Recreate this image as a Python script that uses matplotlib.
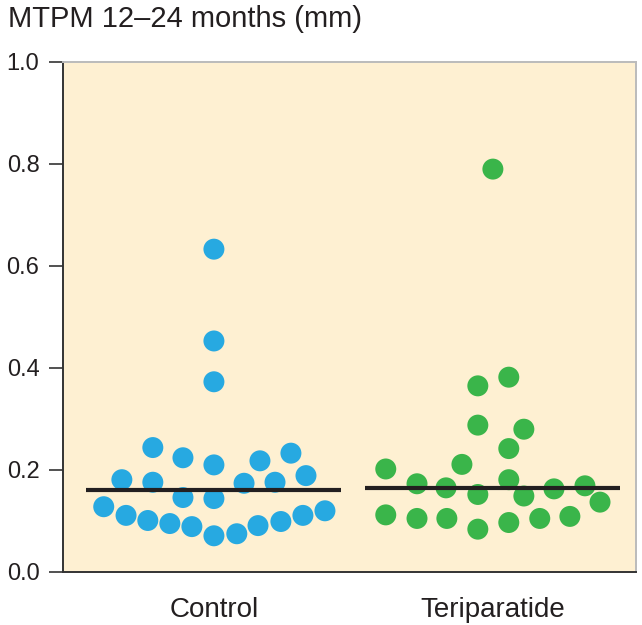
import matplotlib
matplotlib.use("Agg")
import matplotlib.pyplot as plt
import numpy as np

plt.rcParams['font.family'] = ['Liberation Sans', 'DejaVu Sans']

categories = ["Control", "Teriparatide"]

control_values = [0.633, 0.453, 0.373, 0.244, 0.224, 0.210, 0.218, 0.233,
                  0.181, 0.176, 0.174, 0.176, 0.189, 0.146, 0.144,
                  0.128, 0.111, 0.101, 0.095, 0.089, 0.071, 0.075, 0.091,
                  0.099, 0.111, 0.120]
control_offsets = [0, 0, 0, -0.219, -0.111, 0, 0.165, 0.276, -0.330, -0.219,
                   0.108, 0.219, 0.330, -0.111, 0, -0.395, -0.315, -0.237,
                   -0.158, -0.079, 0, 0.082, 0.158, 0.240, 0.319, 0.398]

teri_values = [0.790, 0.365, 0.382, 0.288, 0.280, 0.242, 0.211, 0.202, 0.173,
               0.165, 0.152, 0.181, 0.149, 0.163, 0.169, 0.137, 0.112, 0.105,
               0.105, 0.084, 0.097, 0.105, 0.109]
teri_offsets = [0, -0.054, 0.057, -0.054, 0.111, 0.057, -0.111, -0.384, -0.272,
                -0.168, -0.054, 0.057, 0.111, 0.219, 0.330, 0.384, -0.384,
                -0.272, -0.165, -0.054, 0.057, 0.168, 0.276]

medians = [0.160, 0.165]
yticks = [0.0, 0.2, 0.4, 0.6, 0.8, 1.0]
title = "MTPM 12\u201324 months (mm)"

colors = ["#27A9E1", "#3AB54A"]

fig = plt.figure(figsize=(6.42, 6.25), dpi=100)
ax = fig.add_axes([63/642, 53/625, 573/642, 510/625])
ax.set_facecolor("#FEF0D2")

groups = [(control_values, control_offsets), (teri_values, teri_offsets)]
for i, (vals, offs) in enumerate(groups):
    xs = i + np.array(offs)
    ax.scatter(xs, vals, s=228, color=colors[i], edgecolors='none', zorder=3)
    ax.plot([i - 0.457, i + 0.457], [medians[i], medians[i]],
            color="#231F20", lw=3.0, solid_capstyle='butt', zorder=4)

ax.set_xlim(-0.541, 1.513)
ax.set_ylim(0, 1.0)
ax.set_xticks([0, 1])
ax.set_xticklabels(categories, fontsize=20)
ax.tick_params(axis='x', length=0, pad=18, colors="#231F20")
ax.set_yticks(yticks)
ax.set_yticklabels([f"{t:.1f}" for t in yticks], fontsize=17)
ax.tick_params(axis='y', length=10, width=1.2, color="#333333", pad=7,
               labelcolor="#231F20")

for s in ['left', 'bottom']:
    ax.spines[s].set_color("#333333")
    ax.spines[s].set_linewidth(1.4)
for s in ['top', 'right']:
    ax.spines[s].set_color("#BBBBBB")
    ax.spines[s].set_linewidth(1.4)

fig.text(8/642, 1 - 27/625, title, fontsize=21, color="#231F20",
         ha='left', va='baseline')

fig.savefig("out.png", dpi=100)
